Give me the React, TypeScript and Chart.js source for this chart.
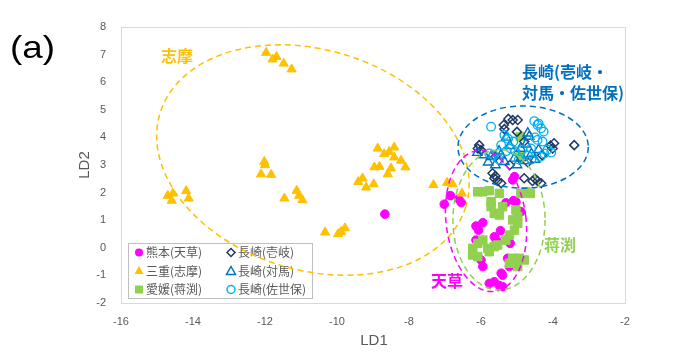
import React, { useEffect, useRef } from 'react';
import { Chart, registerables } from 'chart.js';

Chart.register(...registerables);

// ---------- data ----------
const seriesNames = ['熊本(天草)', '三重(志摩)', '愛媛(蒋渕)', '長崎(壱岐)', '長崎(対馬)', '長崎(佐世保)'];

const kumamotoX = [-8.67, -7.02, -6.85, -6.62, -6.55, -5.12, -5.07, -5.31, -5.10, -5.03, -4.89, -6.14, -5.95, -6.07, -5.46, -5.63, -5.58, -6.14, -5.19, -6.00, -5.95, -5.26, -5.21, -5.44, -5.40, -5.77, -5.63, -5.49, -5.40];
const kumamotoY = [1.22, 1.58, 1.89, 1.77, 1.64, 2.46, 2.58, 1.63, 1.71, 1.67, 1.31, 0.79, 0.91, 0.64, 0.62, 0.40, 0.30, 0.28, 0.16, -0.44, -0.68, -0.38, -0.68, -0.92, -0.99, -1.29, -1.23, -1.37, -1.41];

const shimaX = [-11.97, -11.79, -11.68, -11.48, -11.26, -14.70, -14.56, -14.59, -14.19, -14.12, -12.02, -12.00, -12.11, -11.83, -11.46, -11.12, -11.05, -10.96, -10.33, -9.97, -9.89, -9.78, -8.87, -8.69, -8.55, -8.41, -8.41, -8.22, -8.10, -8.96, -8.82, -8.50, -8.59, -9.41, -9.29, -9.19, -8.98, -7.32, -6.94, -6.79, -6.53];
const shimaY = [7.07, 6.83, 6.92, 6.68, 6.47, 1.89, 1.97, 1.71, 2.06, 1.79, 3.12, 3.00, 2.67, 2.65, 1.79, 2.07, 1.89, 1.73, 0.56, 0.50, 0.58, 0.71, 3.60, 3.40, 3.48, 3.64, 3.28, 3.16, 2.92, 2.92, 2.94, 2.88, 2.67, 2.39, 2.52, 2.19, 2.31, 2.28, 2.36, 2.31, 1.97];

const ehimeX = [-5.95, -5.77, -5.49, -4.75, -4.63, -4.89, -5.72, -5.72, -5.40, -5.03, -5.63, -5.49, -4.98, -5.12, -4.98, -5.07, -5.21, -5.31, -5.95, -6.09, -6.23, -5.81, -5.63, -5.54, -6.23, -6.09, -5.77, -5.12, -4.94, -4.80, -5.21, -4.98, -4.91, -4.91, -6.09];
const ehimeY = [2.03, 2.07, 1.97, 2.03, 1.97, 1.97, 1.67, 1.49, 1.49, 1.37, 1.25, 1.19, 1.13, 1.01, 0.89, 0.64, 0.46, 0.28, 0.28, 0.16, -0.02, -0.02, 0.04, 0.10, -0.26, -0.32, -0.14, -0.38, -0.38, -0.44, -0.56, -0.68, 4.03, 3.30, 2.03];

const ikiX = [-5.24, -5.12, -4.98, -5.37, -5.35, -6.05, -6.00, -6.09, -4.07, -3.97, -4.01, -3.41, -5.68, -5.63, -5.54, -5.44, -5.60, -4.80, -4.57, -4.43, -4.33, -4.50, -4.80, -5.00, -5.60, -4.70, -4.30, -5.20];
const ikiY = [4.67, 4.63, 4.63, 4.45, 4.30, 3.72, 3.54, 3.60, 3.70, 3.79, 3.60, 3.72, 2.70, 2.52, 2.42, 2.34, 2.60, 2.52, 2.42, 2.42, 2.34, 2.50, 3.85, 4.20, 3.30, 3.10, 3.35, 3.00];

const tsushimaX = [-4.66, -4.70, -5.91, -5.72, -5.35, -5.07, -5.50, -5.20, -4.90, -4.60, -4.50, -5.80, -5.60, -5.00, -4.75, -5.30, -4.80, -5.45, -6.10, -4.40];
const tsushimaY = [4.03, 4.15, 3.36, 3.30, 3.12, 3.24, 3.50, 3.70, 3.60, 3.40, 3.20, 3.10, 3.00, 3.00, 3.75, 4.00, 3.15, 3.35, 3.45, 3.55];

const saseboX = [-5.72, -4.52, -4.43, -4.33, -4.26, -5.35, -5.25, -4.43, -4.29, -4.61, -4.24, -5.77, -5.65, -5.17, -5.05, -4.85, -5.44, -4.35, -4.70, -5.50, -4.95, -4.50, -5.10, -4.15, -4.05, -4.40, -5.30, -4.60];
const saseboY = [4.39, 4.59, 4.45, 4.33, 4.21, 4.09, 3.95, 3.91, 3.85, 3.60, 3.42, 3.42, 3.35, 3.60, 3.50, 3.55, 3.72, 3.30, 3.35, 3.20, 3.20, 4.00, 3.85, 3.55, 3.45, 4.50, 3.50, 3.20];

const xTickValues = [-16, -14, -12, -10, -8, -6, -4, -2];
const yTickValues = [-2, -1, 0, 1, 2, 3, 4, 5, 6, 7, 8];

// group ellipses (annotations): centre, half-axes in data units, rotation in degrees
const ellipseCX = [-10.67, -4.83, -5.86, -5.5];
const ellipseCY = [3.18, 3.65, 0.97, 1.01];
const ellipseRX = [4.44, 1.81, 1.11, 1.28];
const ellipseRY = [3.99, 1.49, 2.57, 2.54];
const ellipseRot = [17, 0, -7, 0];

// group labels (annotations)
const labelTexts = ['志摩', '長崎(壱岐・', '対馬・佐世保)', '天草', '蒋渕'];
const labelX = [-14.89, -4.86, -4.86, -7.39, -4.25];
const labelY = [6.95, 6.37, 5.61, -1.2, 0.1];

// ---------- styles ----------
const C_MAG = '#FF00FF';
const C_ORG = '#FFC000';
const C_GRN = '#92D050';
const C_NAVY = '#203864';
const C_BLUE = '#0070C0';
const C_LBLUE = '#00B0F0';
const ellipseColors = [C_ORG, C_BLUE, C_MAG, C_GRN];
const labelColors = [C_ORG, C_BLUE, C_BLUE, C_MAG, C_GRN];
const GRAY = '#595959';
const CJK = '"Noto Sans CJK JP", "Noto Sans", sans-serif';
const LAT = '"Liberation Sans", Arial, sans-serif';

const pts = (xs: number[], ys: number[]) => xs.map((v, i) => ({ x: v, y: ys[i] }));

function drawMarker(ctx: CanvasRenderingContext2D, kind: number, x: number, y: number) {
  ctx.save();
  ctx.lineWidth = 1.5;
  ctx.beginPath();
  if (kind === 0) {
    ctx.fillStyle = C_MAG;
    ctx.arc(x, y, 4, 0, Math.PI * 2);
    ctx.fill();
  } else if (kind === 1) {
    ctx.fillStyle = C_ORG;
    ctx.moveTo(x, y - 5);
    ctx.lineTo(x + 4.5, y + 3);
    ctx.lineTo(x - 4.5, y + 3);
    ctx.closePath();
    ctx.fill();
  } else if (kind === 2) {
    ctx.fillStyle = C_GRN;
    ctx.rect(x - 4, y - 4, 8, 8);
    ctx.fill();
  } else if (kind === 3) {
    ctx.strokeStyle = C_NAVY;
    ctx.moveTo(x, y - 4);
    ctx.lineTo(x + 4, y);
    ctx.lineTo(x, y + 4);
    ctx.lineTo(x - 4, y);
    ctx.closePath();
    ctx.stroke();
  } else if (kind === 4) {
    ctx.strokeStyle = C_BLUE;
    ctx.moveTo(x, y - 4.5);
    ctx.lineTo(x + 4.5, y + 3.5);
    ctx.lineTo(x - 4.5, y + 3.5);
    ctx.closePath();
    ctx.stroke();
  } else {
    ctx.strokeStyle = C_LBLUE;
    ctx.arc(x, y, 4, 0, Math.PI * 2);
    ctx.stroke();
  }
  ctx.restore();
}

const overlayPlugin = {
  id: 'overlay',
  beforeDatasetsDraw(chart: any) {
    const { ctx, chartArea: a } = chart;
    ctx.save();
    ctx.strokeStyle = '#D9D9D9';
    ctx.lineWidth = 1;
    ctx.strokeRect(Math.round(a.left) + 0.5, Math.round(a.top) + 0.5, Math.round(a.right - a.left), Math.round(a.bottom - a.top));
    ctx.restore();
  },
  afterDatasetsDraw(chart: any) {
    const { ctx, chartArea: a, scales } = chart;
    const xs = scales.x;
    const ys = scales.y;
    // legend box
    ctx.save();
    const lx = a.left + 7;
    const ly = a.top + 216;
    ctx.fillStyle = '#FFFFFF';
    ctx.fillRect(lx, ly, 184, 55);
    ctx.strokeStyle = '#BFBFBF';
    ctx.lineWidth = 1;
    ctx.strokeRect(lx + 0.5, ly + 0.5, 184, 55);
    ctx.font = `12px ${CJK}`;
    ctx.fillStyle = GRAY;
    ctx.textBaseline = 'middle';
    ctx.textAlign = 'left';
    seriesNames.forEach((name, i) => {
      const col = Math.floor(i / 3);
      const row = i % 3;
      const mx = lx + 11 + col * 92;
      const my = ly + 9.5 + row * 18.5;
      drawMarker(ctx, i, mx, my);
      ctx.fillStyle = GRAY;
      ctx.fillText(name, mx + 7, my);
    });
    ctx.restore();

    // ellipses
    ctx.save();
    ctx.setLineDash([6, 4]);
    ctx.lineWidth = 1.5;
    ellipseCX.forEach((cx, i) => {
      const px = xs.getPixelForValue(cx);
      const py = ys.getPixelForValue(ellipseCY[i]);
      const rx = Math.abs(xs.getPixelForValue(cx + ellipseRX[i]) - px);
      const ry = Math.abs(ys.getPixelForValue(ellipseCY[i] + ellipseRY[i]) - py);
      ctx.strokeStyle = ellipseColors[i];
      ctx.beginPath();
      ctx.ellipse(px, py, rx, ry, (ellipseRot[i] * Math.PI) / 180, 0, Math.PI * 2);
      ctx.stroke();
    });
    ctx.restore();

    // group labels
    ctx.save();
    ctx.font = `bold 16px ${CJK}`;
    ctx.textBaseline = 'middle';
    ctx.textAlign = 'left';
    labelTexts.forEach((t, i) => {
      ctx.fillStyle = labelColors[i];
      ctx.fillText(t, xs.getPixelForValue(labelX[i]), ys.getPixelForValue(labelY[i]));
    });
    ctx.restore();
  },
  afterDraw(chart: any) {
    const { ctx } = chart;
    ctx.save();
    ctx.fillStyle = '#000000';
    ctx.font = `32px ${LAT}`;
    ctx.textBaseline = 'middle';
    ctx.textAlign = 'left';
    ctx.save();
    ctx.translate(10, 49);
    ctx.scale(1.15, 1);
    ctx.fillText('(a)', 0, 0);
    ctx.restore();
    ctx.fillStyle = GRAY;
    ctx.font = `15px ${LAT}`;
    ctx.textAlign = 'center';
    ctx.fillText('LD1', 374, 341);
    ctx.translate(85, 165);
    ctx.rotate(-Math.PI / 2);
    ctx.fillText('LD2', 0, 0);
    ctx.restore();
  },
};

export default function App() {
  const ref = useRef<HTMLCanvasElement | null>(null);

  useEffect(() => {
    if (!ref.current) return;
    const hollow = 'rgba(0,0,0,0)';
    const chart = new Chart(ref.current, {
      type: 'scatter',
      data: {
        datasets: [
          { label: seriesNames[0], data: pts(kumamotoX, kumamotoY), pointStyle: 'circle', pointRadius: 4.3, borderWidth: 1, backgroundColor: C_MAG, borderColor: C_MAG, order: 6 },
          { label: seriesNames[1], data: pts(shimaX, shimaY), pointStyle: 'triangle', pointRadius: 5.3, borderWidth: 1, backgroundColor: C_ORG, borderColor: C_ORG, order: 5 },
          { label: seriesNames[2], data: pts(ehimeX, ehimeY), pointStyle: 'rect', pointRadius: 6, borderWidth: 1, backgroundColor: C_GRN, borderColor: C_GRN, order: 4 },
          { label: seriesNames[3], data: pts(ikiX, ikiY), pointStyle: 'rectRot', pointRadius: 4.5, borderWidth: 1.5, backgroundColor: hollow, borderColor: C_NAVY, order: 3 },
          { label: seriesNames[4], data: pts(tsushimaX, tsushimaY), pointStyle: 'triangle', pointRadius: 5.5, borderWidth: 1.4, backgroundColor: hollow, borderColor: C_BLUE, order: 2 },
          { label: seriesNames[5], data: pts(saseboX, saseboY), pointStyle: 'circle', pointRadius: 4.3, borderWidth: 1.3, backgroundColor: hollow, borderColor: C_LBLUE, order: 1 },
        ],
      },
      options: {
        animation: false,
        responsive: false,
        maintainAspectRatio: false,
        layout: { padding: { top: 27, right: 75, left: 0, bottom: 0 } },
        plugins: { legend: { display: false }, tooltip: { enabled: false }, title: { display: false } },
        scales: {
          x: {
            type: 'linear',
            min: -16,
            max: -2,
            afterFit: (s: any) => { s.height = 54; },
            afterBuildTicks: (s: any) => { s.ticks = xTickValues.map((v) => ({ value: v })); },
            grid: { display: false, drawTicks: false },
            border: { display: false },
            ticks: { color: GRAY, font: { family: LAT, size: 11 }, padding: 12, maxRotation: 0 },
          },
          y: {
            type: 'linear',
            min: -2,
            max: 8,
            afterFit: (s: any) => { s.width = 121; },
            afterBuildTicks: (s: any) => { s.ticks = yTickValues.map((v) => ({ value: v })); },
            grid: { display: false, drawTicks: false },
            border: { display: false },
            ticks: { color: GRAY, font: { family: LAT, size: 11 }, padding: 15 },
          },
        },
      },
      plugins: [overlayPlugin],
    } as any);
    return () => chart.destroy();
  }, []);

  return (
    <div style={{ position: 'absolute', left: 0, top: 0, width: 700, height: 357, background: '#FFFFFF' }}>
      <canvas ref={ref} width={700} height={357} style={{ width: 700, height: 357, display: 'block' }} />
    </div>
  );
}
